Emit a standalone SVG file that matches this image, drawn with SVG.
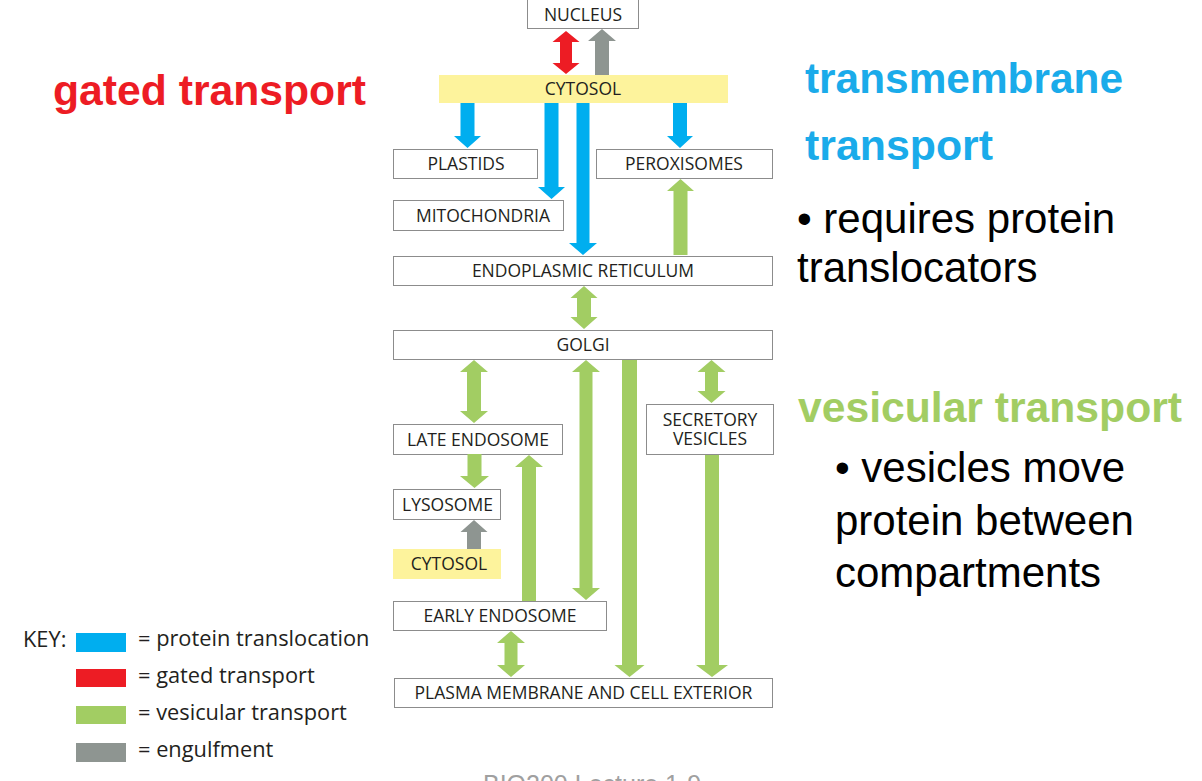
<svg xmlns="http://www.w3.org/2000/svg" width="1202" height="781" viewBox="0 0 1202 781">
<style>
.box{fill:#ffffff;stroke:#8c8c8c;stroke-width:1}
.ybox{fill:#fdf39c}
.lbl{font-family:"Open Sans","Noto Sans",sans-serif;font-size:17.5px;fill:#231f20;text-anchor:middle}
.blue{fill:#00aeef}
.red{fill:#ed1c24}
.green{fill:#a2cd63}
.gray{fill:#8e9591}
.key{font-family:"Open Sans","Noto Sans",sans-serif;font-size:21.8px;fill:#231f20}
.big{font-family:"Liberation Sans",Arial,sans-serif;font-size:42px;font-weight:bold}
.body{font-family:"Liberation Sans",Arial,sans-serif;font-size:42px;fill:#000000}
</style>
<rect width="1202" height="781" fill="#ffffff"/>

<g id="nucleus"><rect class="box" x="527.5" y="-0.5" width="111" height="29"/><text class="lbl" x="583" y="20.5">NUCLEUS</text></g>
<g id="cytosol-top"><rect class="ybox" x="439" y="75" width="289" height="28"/><text class="lbl" x="583" y="95">CYTOSOL</text></g>
<g id="plastids"><rect class="box" x="393.5" y="149.5" width="144" height="29"/><text class="lbl" x="466" y="170">PLASTIDS</text></g>
<g id="peroxisomes"><rect class="box" x="596.5" y="149.5" width="176" height="29"/><text class="lbl" x="684" y="170">PEROXISOMES</text></g>
<g id="mitochondria"><rect class="box" x="393.5" y="200.5" width="170" height="30"/><text class="lbl" x="483" y="221.5">MITOCHONDRIA</text></g>
<g id="er"><rect class="box" x="393.5" y="256.5" width="379" height="29"/><text class="lbl" x="583" y="277">ENDOPLASMIC RETICULUM</text></g>
<g id="golgi"><rect class="box" x="393.5" y="330.5" width="379" height="29"/><text class="lbl" x="583" y="351">GOLGI</text></g>
<g id="late-endosome"><rect class="box" x="393.5" y="424.5" width="169" height="30"/><text class="lbl" x="478" y="445.5">LATE ENDOSOME</text></g>
<g id="secretory-vesicles"><rect class="box" x="646.5" y="404.5" width="127" height="50"/><text class="lbl" x="710" y="426">SECRETORY</text><text class="lbl" x="710" y="445">VESICLES</text></g>
<g id="lysosome"><rect class="box" x="393.5" y="489.5" width="107" height="30"/><text class="lbl" x="447.5" y="510.5">LYSOSOME</text></g>
<g id="cytosol-bottom"><rect class="ybox" x="393" y="549" width="108" height="30"/><text class="lbl" x="449" y="570">CYTOSOL</text></g>
<g id="early-endosome"><rect class="box" x="393.5" y="601.5" width="213" height="29"/><text class="lbl" x="500" y="622">EARLY ENDOSOME</text></g>
<g id="plasma-membrane"><rect class="box" x="394.5" y="678.5" width="378" height="29"/><text class="lbl" x="583.5" y="699">PLASMA MEMBRANE AND CELL EXTERIOR</text></g>

<g id="connectors">
<polygon class="red" points="566,31 579.5,42 572,42 572,63 579.5,63 566,74 552.5,63 560,63 560,42 552.5,42"/>
<polygon class="gray" points="602,29 616,41 609,41 609,75 595,75 595,41 588,41"/>
<polygon class="blue" points="460.5,103 474.5,103 474.5,136 481,136 467.5,148 454,136 460.5,136"/>
<polygon class="blue" points="544.5,103 558.5,103 558.5,187 565,187 551.5,199 538,187 544.5,187"/>
<polygon class="blue" points="576.5,103 589.5,103 589.5,243 597,243 583,255 569,243 576.5,243"/>
<polygon class="blue" points="673,103 687,103 687,136 693,136 680,148 667,136 673,136"/>
<polygon class="green" points="680.5,179 694,191 687.5,191 687.5,255 673.5,255 673.5,191 667,191"/>
<polygon class="green" points="584,286 597.5,298 591,298 591,317 597.5,317 584,329 570.5,317 577,317 577,298 570.5,298"/>
<polygon class="green" points="474,360 488,372 481,372 481,411 488,411 474,423 460,411 467,411 467,372 460,372"/>
<polygon class="green" points="586,360 600,372 592.5,372 592.5,588 600,588 586,600 572,588 579.5,588 579.5,372 572,372"/>
<polygon class="green" points="622,360 637,360 637,665 644.5,665 629.5,677 614.5,665 622,665"/>
<polygon class="green" points="711.5,360 725.5,372 718,372 718,391 725.5,391 711.5,403 697.5,391 705,391 705,372 697.5,372"/>
<polygon class="green" points="705,455 719,455 719,665 728,665 712,677 696,665 705,665"/>
<polygon class="green" points="467.5,454 481.5,454 481.5,476 489,476 474.5,488 460,476 467.5,476"/>
<polygon class="green" points="529,455 543,467 536,467 536,601 522,601 522,467 515,467"/>
<polygon class="gray" points="474,520 487.5,532 481,532 481,549 467,549 467,532 460.5,532"/>
<polygon class="green" points="511,631 525,643 517.5,643 517.5,665 525,665 511,677 497,665 504.5,665 504.5,643 497,643"/>
</g>

<g id="key">
<text class="key" x="23" y="647">KEY:</text>
<rect class="blue" x="76" y="633" width="50" height="19"/>
<rect class="red" x="76" y="669" width="50" height="18"/>
<rect class="green" x="76" y="706" width="50" height="18"/>
<rect class="gray" x="76" y="743" width="50" height="19"/>
<text class="key" x="138" y="646">= protein translocation</text>
<text class="key" x="138" y="683">= gated transport</text>
<text class="key" x="138" y="720">= vesicular transport</text>
<text class="key" x="138" y="757">= engulfment</text>
</g>

<g id="annotations">
<text class="big" x="53" y="105" fill="#ed1c24" textLength="313" lengthAdjust="spacingAndGlyphs">gated transport</text>
<text class="big" x="805" y="93" fill="#1aabea" textLength="318" lengthAdjust="spacingAndGlyphs">transmembrane</text>
<text class="big" x="805" y="160" fill="#1aabea" textLength="188" lengthAdjust="spacingAndGlyphs">transport</text>
<text class="body" x="797" y="233">• requires protein</text>
<text class="body" x="797" y="282">translocators</text>
<text class="big" x="798" y="422" fill="#a2cd63" textLength="384" lengthAdjust="spacingAndGlyphs">vesicular transport</text>
<text class="body" x="835" y="482" font-size="43">• vesicles move</text>
<text class="body" x="835" y="535" font-size="43">protein between</text>
<text class="body" x="835" y="587" font-size="43">compartments</text>
<text x="483" y="793" font-family="Liberation Sans, Arial, sans-serif" font-size="25" fill="#a0a0a0">BIO200 Lecture 1-9</text>
</g>
</svg>
